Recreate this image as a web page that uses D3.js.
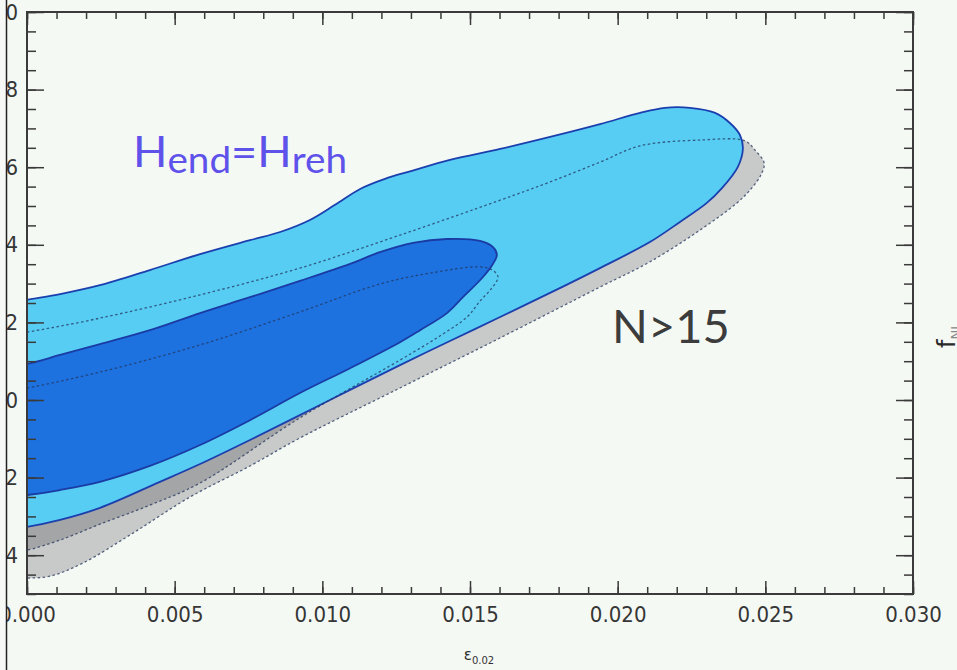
<!DOCTYPE html>
<html>
<head>
<meta charset="utf-8">
<script src="https://cdn.jsdelivr.net/npm/d3@7"></script>
<style>
  html, body { margin: 0; padding: 0; background: #f5f9f4; }
  svg { display: block; }
</style>
</head>
<body>
<svg id="chart" width="957" height="670"></svg>
<script>
// Axis ticks and labels
const xMajorTicks = [0, 0.005, 0.010, 0.015, 0.020, 0.025, 0.030];
const xTickLabels = ["0.000", "0.005", "0.010", "0.015", "0.020", "0.025", "0.030"];
const yMajorTicks = [1.0, 0.8, 0.6, 0.4, 0.2, 0.0, -0.2, -0.4];
const yTickLabels = ["1.0", "0.8", "0.6", "0.4", "0.2", "0.0", "-0.2", "-0.4"];

// Credible contours, [epsilon, y] along each closed boundary
// H_end = H_reh : 95% region
const hendOuter = [
  [-0.00051, 0.250], [0, 0.258], [0.00112, 0.273], [0.00247, 0.296], [0.00416, 0.335],
  [0.00586, 0.376], [0.00755, 0.412], [0.00857, 0.433], [0.00958, 0.464], [0.01043, 0.503],
  [0.01128, 0.544], [0.01212, 0.570], [0.01300, 0.590], [0.01432, 0.619], [0.01602, 0.647],
  [0.01771, 0.678], [0.01940, 0.711], [0.02076, 0.740], [0.02160, 0.753], [0.02245, 0.753],
  [0.02330, 0.740], [0.02380, 0.714], [0.02414, 0.683], [0.02424, 0.649], [0.02407, 0.601],
  [0.02353, 0.546], [0.02302, 0.508], [0.02211, 0.459], [0.02109, 0.407], [0.01940, 0.340],
  [0.01771, 0.276], [0.01602, 0.214], [0.01432, 0.152], [0.01263, 0.090], [0.01094, 0.026],
  [0.00924, -0.039], [0.00755, -0.103], [0.00586, -0.165], [0.00450, -0.211], [0.00247, -0.278],
  [0.00112, -0.309], [0, -0.327], [-0.00051, -0.332]
];
// H_end = H_reh : 68% region
const hendInner = [
  [-0.00051, 0.088], [0, 0.093], [0.00112, 0.116], [0.00247, 0.144], [0.00416, 0.180],
  [0.00586, 0.224], [0.00755, 0.265], [0.00924, 0.307], [0.01094, 0.351], [0.01195, 0.381],
  [0.01307, 0.405], [0.01422, 0.415], [0.01534, 0.410], [0.01578, 0.394], [0.01591, 0.374],
  [0.01578, 0.351], [0.01544, 0.317], [0.01476, 0.265], [0.01422, 0.224], [0.01331, 0.180],
  [0.01263, 0.149], [0.01094, 0.082], [0.00924, 0.018], [0.00755, -0.052], [0.00586, -0.116],
  [0.00416, -0.170], [0.00247, -0.211], [0.00112, -0.232], [0, -0.245], [-0.00051, -0.250]
];
// N > 15 : 95% region
const nOuter = [
  [-0.00051, 0.170], [0, 0.175], [0.00247, 0.211], [0.00586, 0.271], [0.00924, 0.340],
  [0.01263, 0.425], [0.01602, 0.515], [0.01771, 0.562], [0.01940, 0.613], [0.02076, 0.655],
  [0.02279, 0.670], [0.02431, 0.668], [0.02465, 0.644], [0.02496, 0.611], [0.02485, 0.580],
  [0.02448, 0.541], [0.02404, 0.508], [0.02279, 0.438], [0.02109, 0.356], [0.01940, 0.291],
  [0.01602, 0.160], [0.01263, 0.031], [0.00924, -0.098], [0.00755, -0.170], [0.00552, -0.250],
  [0.00359, -0.343], [0.00190, -0.420], [0.00078, -0.454], [0, -0.459], [-0.00051, -0.459]
];
// N > 15 : 68% region
const nInner = [
  [-0.00051, 0.026], [0, 0.031], [0.00247, 0.072], [0.00586, 0.142], [0.00924, 0.227],
  [0.01195, 0.299], [0.01365, 0.327], [0.01534, 0.343], [0.01575, 0.335], [0.01595, 0.317],
  [0.01571, 0.286], [0.01534, 0.255], [0.01490, 0.214], [0.01398, 0.165], [0.01263, 0.103],
  [0.00924, -0.046], [0.00586, -0.214], [0.00416, -0.271], [0.00247, -0.320], [0.00112, -0.361],
  [0, -0.387], [-0.00051, -0.392]
];

const W = 957, H = 670;
const frame = { left: 27, right: 913, top: 12, bottom: 594 };
const BG = "#f5f9f4";
const tickFont = "'DejaVu Sans Condensed', 'DejaVu Sans', sans-serif";

const x = d3.scaleLinear().domain([0, 0.03]).range([frame.left, frame.right]);
const y = d3.scaleLinear().domain([-0.5, 1.0]).range([frame.bottom, frame.top]);

const svg = d3.select("#chart");
svg.append("rect").attr("width", W).attr("height", H).attr("fill", BG);

svg.append("defs").append("clipPath").attr("id", "plot-clip")
  .append("rect")
  .attr("x", frame.left).attr("y", frame.top)
  .attr("width", frame.right - frame.left).attr("height", frame.bottom - frame.top);

const shape = d3.line()
  .x(d => x(d[0])).y(d => y(d[1]))
  .curve(d3.curveCatmullRomClosed.alpha(0.5));

const plot = svg.append("g").attr("clip-path", "url(#plot-clip)");

// N > 15 filled regions
plot.append("path").datum(nOuter).attr("d", shape).attr("fill", "#c8c9c9");
plot.append("path").datum(nInner).attr("d", shape).attr("fill", "#a4a5a6");

// H_end = H_reh filled regions with solid outlines
plot.append("path").datum(hendOuter).attr("d", shape)
  .attr("fill", "#57cdf4").attr("stroke", "#1c3fae").attr("stroke-width", 1.8);
plot.append("path").datum(hendInner).attr("d", shape)
  .attr("fill", "#1d72e0").attr("stroke", "#1a3aa4").attr("stroke-width", 1.8);

// N > 15 dotted outlines on top
[nOuter, nInner].forEach(c => {
  plot.append("path").datum(c).attr("d", shape)
    .attr("fill", "none").attr("stroke", "#23355e").attr("stroke-opacity", 0.75)
    .attr("stroke-width", 1.3).attr("stroke-dasharray", "2.5,2.5");
});

// Axes: inward ticks on all four sides
const tickColor = "#3a3a3a";
function styleAxis(sel) {
  sel.select(".domain").remove();
  sel.selectAll(".tick line").attr("stroke", tickColor).attr("stroke-width", 1.5);
  sel.selectAll(".tick text")
    .attr("font-family", tickFont)
    .attr("font-stretch", "condensed")
    .attr("font-size", 22).attr("fill", "#363636");
}
const xMinorTicks = x.ticks(30);
const yMinorTicks = y.ticks(30);

svg.append("g").attr("transform", `translate(0,${frame.bottom})`)
  .call(d3.axisBottom(x).tickValues(xMinorTicks).tickSize(-7).tickFormat("")).call(styleAxis);
svg.append("g").attr("transform", `translate(0,${frame.bottom})`)
  .call(d3.axisBottom(x).tickValues(xMajorTicks).tickSize(-13).tickPadding(12)
    .tickFormat((d, i) => xTickLabels[i])).call(styleAxis);
svg.append("g").attr("transform", `translate(0,${frame.top})`)
  .call(d3.axisTop(x).tickValues(xMinorTicks).tickSize(-7).tickFormat("")).call(styleAxis);
svg.append("g").attr("transform", `translate(0,${frame.top})`)
  .call(d3.axisTop(x).tickValues(xMajorTicks).tickSize(-13).tickFormat("")).call(styleAxis);

svg.append("g").attr("transform", `translate(${frame.left},0)`)
  .call(d3.axisLeft(y).tickValues(yMinorTicks).tickSize(-9).tickFormat("")).call(styleAxis);
svg.append("g").attr("transform", `translate(${frame.left},0)`)
  .call(d3.axisLeft(y).tickValues(yMajorTicks).tickSize(-17).tickPadding(9)
    .tickFormat((d, i) => yTickLabels[i])).call(styleAxis);
svg.append("g").attr("transform", `translate(${frame.right},0)`)
  .call(d3.axisRight(y).tickValues(yMinorTicks).tickSize(-9).tickFormat("")).call(styleAxis);
svg.append("g").attr("transform", `translate(${frame.right},0)`)
  .call(d3.axisRight(y).tickValues(yMajorTicks).tickSize(-17).tickFormat("")).call(styleAxis);

// Frame
svg.append("rect")
  .attr("x", frame.left).attr("y", frame.top)
  .attr("width", frame.right - frame.left).attr("height", frame.bottom - frame.top)
  .attr("fill", "none").attr("stroke", "#3a3a3a").attr("stroke-width", 2);

// x-axis title
const xt = svg.append("text")
  .attr("x", 479).attr("y", 660)
  .attr("text-anchor", "middle")
  .attr("font-family", "'DejaVu Sans', sans-serif")
  .attr("fill", "#333");
xt.append("tspan").attr("font-size", 15).text("ε");
xt.append("tspan").attr("font-size", 10).attr("dy", 4).text("0.02");

// neighbouring panel's axis title at the right edge
const rt = svg.append("text")
  .attr("transform", "translate(955,348) rotate(-90)")
  .attr("font-family", "'DejaVu Sans', sans-serif")
  .attr("fill", "#2a2a2a");
rt.append("tspan").attr("font-size", 24).text("f");
rt.append("tspan").attr("font-size", 13).attr("dy", 5).attr("fill", "#888").text("NL");

// In-plot annotations
const ht = svg.append("text")
  .attr("x", 133).attr("y", 167)
  .attr("font-family", "Lato, 'Open Sans', sans-serif")
  .attr("fill", "#5e52ea")
  .attr("textLength", 214).attr("lengthAdjust", "spacingAndGlyphs");
ht.append("tspan").attr("font-size", 42).text("H");
ht.append("tspan").attr("font-size", 36).attr("dy", 6).text("end");
ht.append("tspan").attr("font-size", 42).attr("dy", -6).text("=H");
ht.append("tspan").attr("font-size", 36).attr("dy", 6).text("reh");

svg.append("text")
  .attr("x", 612).attr("y", 343)
  .attr("font-family", "Lato, 'Open Sans', sans-serif")
  .attr("font-size", 47).attr("fill", "#3c3c3c")
  .text("N>15");

// Window edge on the left
svg.append("rect").attr("x", 0).attr("y", 0).attr("width", 6).attr("height", H).attr("fill", "#f7f9f7");
svg.append("line").attr("x1", 6.5).attr("x2", 6.5).attr("y1", 0).attr("y2", H)
  .attr("stroke", "#222").attr("stroke-width", 1.5);
</script>
</body>
</html>
